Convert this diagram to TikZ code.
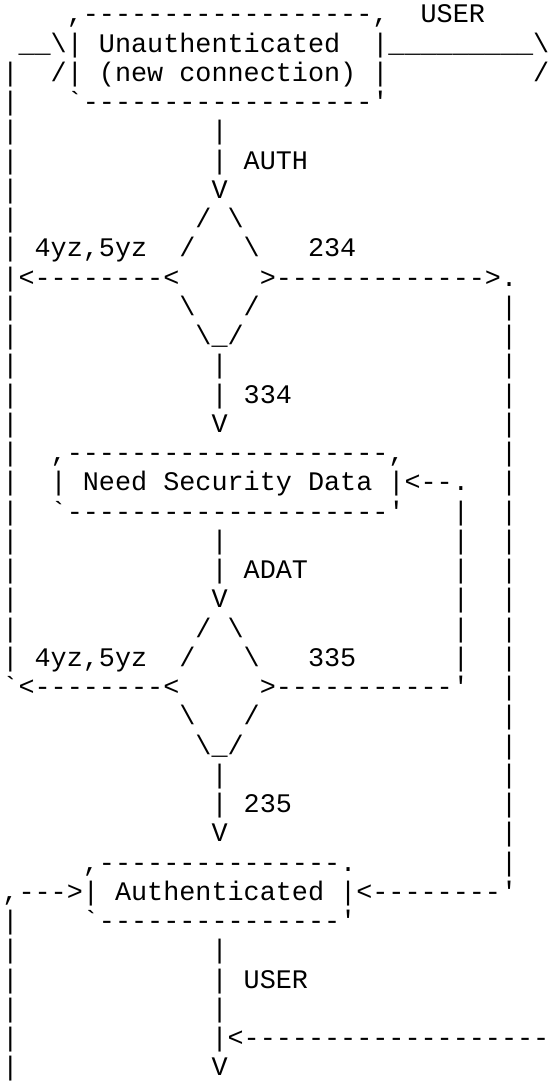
\documentclass[tikz,border=0pt]{standalone}
\usepackage{fontspec}
\setmonofont{Liberation Mono}
\tikzset{asc/.style={anchor=base west,inner sep=0pt,outer sep=0pt,font=\ttfamily\fontsize{10}{12}\selectfont}}
\begin{document}
\begin{tikzpicture}[x=6pt,y=-10.91pt]
\useasboundingbox (-0.153,0.214) rectangle (33.93,37.214);
\node[asc] (unauthtop) at (4,1) {,------------------,};
\node[asc] (userlbl) at (26,1) {USER};
\node[asc] (loopin) at (1,2) {\_\_\textbackslash|};
\node[asc] (unauth) at (6,2) {Unauthenticated};
\node[asc] (userarrow) at (23,2) {|\_\_\_\_\_\_\_\_\_\textbackslash};
\node[asc] (loopinb) at (3,3) {/|};
\node[asc] (newconn) at (6,3) {(new connection)};
\node[asc] (unauthright) at (23,3) {|};
\node[asc] (userarrowb) at (33,3) {/};
\node[asc] (unauthbot) at (4,4) {`------------------'};

\node[asc] (auth) at (15,6) {AUTH};
\node[asc] (authv) at (13,7) {V};
\node[asc] (dtop) at (12,8) {/ \textbackslash};
\node[asc] (fail) at (2,9) {4yz,5yz};
\node[asc] (dul) at (11,9) {/};
\node[asc] (dur) at (15,9) {\textbackslash};
\node[asc] (ok) at (19,9) {234};
\node[asc] (dleft) at (1,10) {<--------<};
\node[asc] (dright) at (16,10) {>------------->.};
\node[asc] (dll) at (11,11) {\textbackslash};
\node[asc] (dlr) at (15,11) {/};
\node[asc] (dbot) at (12,12) {\textbackslash\_/};
\node[asc] (cont) at (15,14) {334};
\node[asc] (contv) at (13,15) {V};

\node[asc] (needtop) at (3,16) {,--------------------,};
\node[asc] (need) at (3,17) {| Need Security Data |<--.};
\node[asc] (needbot) at (3,18) {`--------------------'};
\node[asc] (adat) at (15,20) {ADAT};
\node[asc] (adatv) at (13,21) {V};
\node[asc] (etop) at (12,22) {/ \textbackslash};
\node[asc] (failb) at (2,23) {4yz,5yz};
\node[asc] (eul) at (11,23) {/};
\node[asc] (eur) at (15,23) {\textbackslash};
\node[asc] (again) at (19,23) {335};
\node[asc] (eleft) at (0,24) {`<--------<};
\node[asc] (eright) at (16,24) {>-----------'};
\node[asc] (ell) at (11,25) {\textbackslash};
\node[asc] (elr) at (15,25) {/};
\node[asc] (ebot) at (12,26) {\textbackslash\_/};
\node[asc] (done) at (15,28) {235};
\node[asc] (donev) at (13,29) {V};

\node[asc] (authtop) at (5,30) {,---------------.};
\node[asc] (authd) at (0,31) {,--->| Authenticated |<--------'};
\node[asc] (authbot) at (5,32) {`---------------'};
\node[asc] (userb) at (15,34) {USER};
\node[asc] (reentry) at (14,36) {<-------------------};
\node[asc] (userv) at (13,37) {V};

\foreach \r in {3,...,23} \node[asc] (left\r) at (0,\r) {|};
\foreach \r in {32,...,37} \node[asc] (leftb\r) at (0,\r) {|};
\foreach \r in {11,...,30} \node[asc] (right\r) at (31,\r) {|};
\foreach \r in {18,...,23} \node[asc] (back\r) at (28,\r) {|};
\foreach \r in {5,6,13,14,19,20,27,28,33,34,35,36} \node[asc] (mid\r) at (13,\r) {|};
\end{tikzpicture}
\end{document}
